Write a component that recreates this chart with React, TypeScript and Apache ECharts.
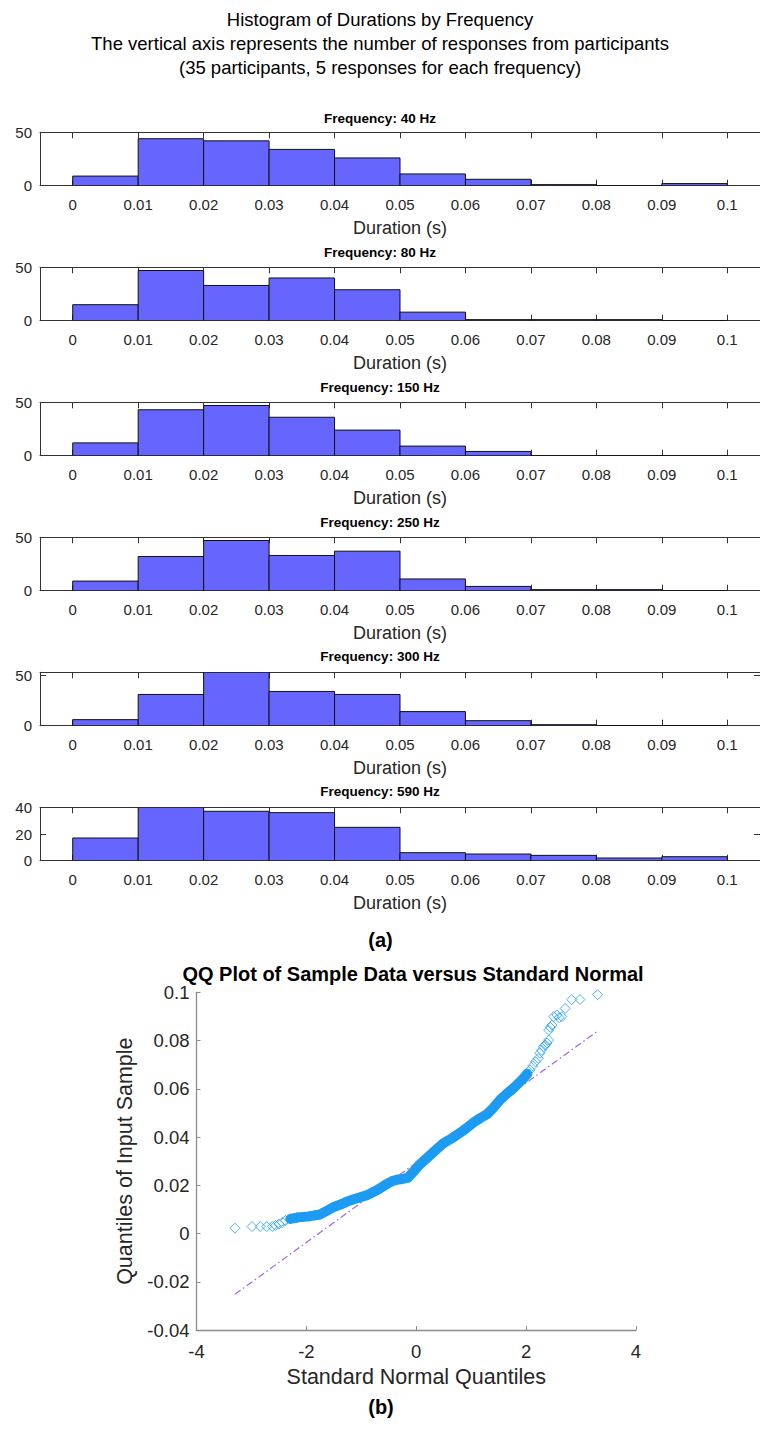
import React, { useEffect, useRef } from 'react';
import * as echarts from 'echarts';

// ---------- Histogram data ----------
const binEdges = [0, 0.01, 0.02, 0.03, 0.04, 0.05, 0.06, 0.07, 0.08, 0.09, 0.1];
const frequencies = ['40 Hz', '80 Hz', '150 Hz', '250 Hz', '300 Hz', '590 Hz'];
const counts40 = [9, 44, 42, 34, 26, 11, 6, 1, 0, 2];
const counts80 = [15, 47, 33, 40, 29, 8, 1, 1, 1, 0];
const counts150 = [12, 43, 47, 36, 24, 9, 4, 0, 0, 0];
const counts250 = [9, 32, 47, 33, 37, 11, 4, 1, 1, 0];
const counts300 = [6, 31, 53, 34, 31, 14, 5, 1, 0, 0];
const counts590 = [17, 40, 37, 36, 25, 6, 5, 4, 2, 3];
const yMaxes = [50, 50, 50, 50, 53, 40];
const yTickValues = [[0, 50], [0, 50], [0, 50], [0, 50], [0, 50], [0, 20, 40]];
const xTickValues = [0, 0.01, 0.02, 0.03, 0.04, 0.05, 0.06, 0.07, 0.08, 0.09, 0.1];
const xTickLabels = ['0', '0.01', '0.02', '0.03', '0.04', '0.05', '0.06', '0.07', '0.08', '0.09', '0.1'];
const xRange = [-0.005, 0.105];

// ---------- QQ plot data ----------
const qqTailLowX = [-3.3, -2.99, -2.84, -2.72, -2.62, -2.56, -2.5, -2.44, -2.38];
const qqTailLowY = [0.0022, 0.0029, 0.0029, 0.0029, 0.0029, 0.0033, 0.0039, 0.0046, 0.0054];
const qqBandX = [-2.29, -2.17, -2.05, -1.95, -1.85, -1.75, -1.62, -1.5, -1.38, -1.26, -1.14, -1.02, -0.9, -0.8, -0.71, -0.62, -0.53, -0.44, -0.35, -0.25, -0.15, -0.05, 0.05, 0.19, 0.35, 0.5, 0.65, 0.8, 0.92, 1.04, 1.16, 1.29, 1.4, 1.53, 1.65, 1.77, 1.87, 1.95, 2.02];
const qqBandY = [0.0061, 0.0066, 0.0069, 0.0071, 0.0075, 0.0079, 0.0095, 0.011, 0.012, 0.0132, 0.0142, 0.015, 0.0159, 0.017, 0.018, 0.0193, 0.0206, 0.0217, 0.0223, 0.0226, 0.0232, 0.0257, 0.0283, 0.0312, 0.0345, 0.0375, 0.0395, 0.0418, 0.0438, 0.046, 0.0478, 0.0495, 0.052, 0.0555, 0.058, 0.0603, 0.0625, 0.0643, 0.0662];
const qqTailHighX = [2.07, 2.12, 2.17, 2.22, 2.25, 2.28, 2.32, 2.35, 2.38, 2.41, 2.41, 2.44, 2.47, 2.5, 2.56, 2.6, 2.65, 2.71, 2.83, 2.98, 3.3];
const qqTailHighY = [0.0678, 0.0695, 0.0712, 0.0726, 0.0747, 0.076, 0.0775, 0.0781, 0.079, 0.0802, 0.0843, 0.0855, 0.0864, 0.0899, 0.0906, 0.0895, 0.0899, 0.0933, 0.097, 0.097, 0.099];
const qqRefLineX = [-3.3, 3.3];
const qqRefLineY = [-0.0252, 0.0839];

const allCounts = [counts40, counts80, counts150, counts250, counts300, counts590];

const FONT = "'Liberation Sans', Arial, Helvetica, sans-serif";
const AX = '#333333';
const TXT = '#262626';
const BAR = '#6666ff';
const QQ_BLUE = '#1b9cf2';
const QQ_PURPLE = '#a066e0';
const QQ_AX = '#8c8c8c';

const zip = (xs: number[], ys: number[]) => xs.map((x, i) => [x, ys[i]]);

function buildOption() {
  const grids: any[] = [];
  const xAxes: any[] = [];
  const yAxes: any[] = [];
  const series: any[] = [];
  const graphics: any[] = [];

  const mainTitle = [
    'Histogram of Durations by Frequency',
    'The vertical axis represents the number of responses from participants',
    '(35 participants, 5 responses for each frequency)',
  ];
  const mainTitleY = [19.5, 43.5, 67.5];
  mainTitle.forEach((t, k) => {
    graphics.push({
      type: 'text', x: 380, y: mainTitleY[k],
      style: { text: t, fontSize: 18.5, fontFamily: FONT, fill: '#000', align: 'center', verticalAlign: 'middle' },
    });
  });

  const fmtX = (v: number) => {
    const idx = xTickValues.findIndex((t) => Math.abs(t - v) < 1e-9);
    return idx >= 0 ? xTickLabels[idx] : String(v);
  };

  frequencies.forEach((f, i) => {
    const top = 132.3 + 135 * i;
    grids.push({ left: 40, top, width: 725, height: 53.4 });
    graphics.push({
      type: 'text', x: 380, y: 118 + 134.7 * i,
      style: { text: 'Frequency: ' + f, fontSize: 13.5, fontWeight: 'bold', fontFamily: FONT, fill: '#000', align: 'center', verticalAlign: 'middle' },
    });
    xAxes.push({
      type: 'value', gridIndex: i, min: xRange[0], max: xRange[1], position: 'bottom',
      axisLine: { show: true, onZero: false, lineStyle: { color: AX, width: 1 } },
      axisTick: { show: true, inside: true, length: 6, customValues: xTickValues, lineStyle: { color: AX } },
      axisLabel: { show: true, customValues: xTickValues, margin: 11, fontSize: 15, color: TXT, fontFamily: FONT, formatter: fmtX },
      splitLine: { show: false },
      name: 'Duration (s)', nameLocation: 'middle', nameGap: 33,
      nameTextStyle: { fontSize: 18, color: TXT, fontFamily: FONT },
    });
    xAxes.push({
      type: 'value', gridIndex: i, min: xRange[0], max: xRange[1], position: 'top',
      axisLine: { show: true, onZero: false, lineStyle: { color: AX, width: 1 } },
      axisTick: { show: true, inside: true, length: 6, customValues: xTickValues, lineStyle: { color: AX } },
      axisLabel: { show: false },
      splitLine: { show: false },
    });
    yAxes.push({
      type: 'value', gridIndex: i, min: 0, max: yMaxes[i], position: 'left',
      axisLine: { show: true, onZero: false, lineStyle: { color: AX, width: 1 } },
      axisTick: { show: true, inside: true, length: 6, customValues: yTickValues[i], lineStyle: { color: AX } },
      axisLabel: { show: true, customValues: yTickValues[i], margin: 8, fontSize: 15, color: TXT, fontFamily: FONT },
      splitLine: { show: false },
    });
    yAxes.push({
      type: 'value', gridIndex: i, min: 0, max: yMaxes[i], position: 'right',
      axisLine: { show: true, onZero: false, lineStyle: { color: AX, width: 1 } },
      axisTick: { show: true, inside: true, length: 6, customValues: yTickValues[i], lineStyle: { color: AX } },
      axisLabel: { show: false },
      splitLine: { show: false },
    });
    const data = allCounts[i].map((c, k) => [binEdges[k], binEdges[k + 1], c]);
    series.push({
      type: 'custom',
      xAxisIndex: 2 * i,
      yAxisIndex: 2 * i,
      encode: { x: [0, 1], y: 2 },
      data,
      clip: true,
      z: 1,
      renderItem: (params: any, api: any) => {
        const p0 = api.coord([api.value(0), api.value(2)]);
        const p1 = api.coord([api.value(1), 0]);
        return {
          type: 'rect',
          shape: { x: p0[0], y: p0[1], width: p1[0] - p0[0], height: p1[1] - p0[1] },
          style: { fill: BAR, stroke: '#111111', lineWidth: 1 },
        };
      },
    });
  });

  graphics.push({
    type: 'text', x: 380.5, y: 940,
    style: { text: '(a)', fontSize: 20, fontWeight: 'bold', fontFamily: FONT, fill: '#000', align: 'center', verticalAlign: 'middle' },
  });
  graphics.push({
    type: 'text', x: 413, y: 974,
    style: { text: 'QQ Plot of Sample Data versus Standard Normal', fontSize: 20, fontWeight: 'bold', fontFamily: FONT, fill: '#000', align: 'center', verticalAlign: 'middle' },
  });
  graphics.push({
    type: 'text', x: 381, y: 1407,
    style: { text: '(b)', fontSize: 20, fontWeight: 'bold', fontFamily: FONT, fill: '#000', align: 'center', verticalAlign: 'middle' },
  });

  // QQ plot grid
  const qi = frequencies.length;
  grids.push({ left: 196.5, top: 992.3, width: 439.5, height: 337.7 });
  const fmt2 = (v: number) => String(+v.toFixed(2));
  xAxes.push({
    type: 'value', gridIndex: qi, min: -4, max: 4, interval: 2,
    axisLine: { show: true, onZero: false, lineStyle: { color: QQ_AX, width: 1.3 } },
    axisTick: { show: true, inside: true, length: 4, lineStyle: { color: QQ_AX } },
    axisLabel: { margin: 12, fontSize: 18.5, color: TXT, fontFamily: FONT, formatter: fmt2 },
    splitLine: { show: false },
    name: 'Standard Normal Quantiles', nameLocation: 'middle', nameGap: 36,
    nameTextStyle: { fontSize: 21.5, color: TXT, fontFamily: FONT },
  });
  yAxes.push({
    type: 'value', gridIndex: qi, min: -0.04, max: 0.1, interval: 0.02,
    axisLine: { show: true, onZero: false, lineStyle: { color: QQ_AX, width: 1.3 } },
    axisTick: { show: true, inside: true, length: 4, lineStyle: { color: QQ_AX } },
    axisLabel: { margin: 7, fontSize: 18.5, color: TXT, fontFamily: FONT, formatter: fmt2 },
    splitLine: { show: false },
    name: 'Quantiles of Input Sample', nameLocation: 'middle', nameGap: 54,
    nameTextStyle: { fontSize: 21.5, color: TXT, fontFamily: FONT },
  });

  const xIdx = 2 * qi;
  const yIdx = 2 * qi;
  series.push({
    type: 'line', xAxisIndex: xIdx, yAxisIndex: yIdx,
    data: zip(qqRefLineX, qqRefLineY), symbol: 'none', z: 2,
    lineStyle: { color: QQ_PURPLE, width: 1.2, type: [7, 3, 1.5, 3] },
  });
  series.push({
    type: 'line', xAxisIndex: xIdx, yAxisIndex: yIdx,
    data: zip(qqBandX, qqBandY), symbol: 'none', z: 3,
    lineStyle: { color: QQ_BLUE, width: 10, cap: 'round', join: 'round' },
  });
  series.push({
    type: 'scatter', xAxisIndex: xIdx, yAxisIndex: yIdx,
    data: [...zip(qqTailLowX, qqTailLowY), ...zip(qqBandX, qqBandY), ...zip(qqTailHighX, qqTailHighY)],
    symbol: 'diamond', symbolSize: 10, z: 4,
    itemStyle: { color: 'rgba(0,0,0,0)', borderColor: QQ_BLUE, borderWidth: 1 },
  });

  return {
    animation: false,
    backgroundColor: '#ffffff',
    textStyle: { fontFamily: FONT },
    grid: grids,
    xAxis: xAxes,
    yAxis: yAxes,
    series,
    graphic: graphics,
  };
}

export default function App() {
  const ref = useRef<HTMLDivElement>(null);
  useEffect(() => {
    if (!ref.current) return;
    const chart = echarts.init(ref.current, undefined, { renderer: 'svg' });
    chart.setOption(buildOption() as any);
    return () => chart.dispose();
  }, []);
  return (
    <div
      ref={ref}
      style={{ position: 'absolute', left: 0, top: 0, width: 760, height: 1430, background: '#fff' }}
    />
  );
}
